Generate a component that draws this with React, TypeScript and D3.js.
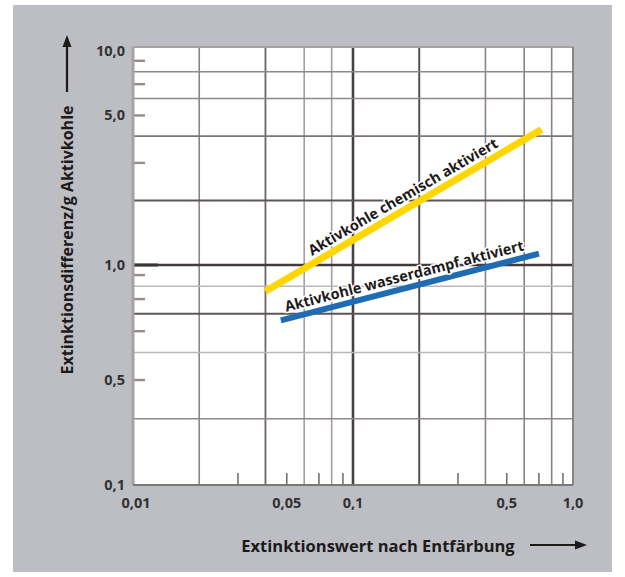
import React from "react";
import * as d3 from "d3";

// ---- data ----
const xGridValues = [0.02, 0.04, 0.06, 0.08, 0.1, 0.2, 0.4, 0.6, 0.8];
const xMinorTicks = [0.03, 0.05, 0.07, 0.09, 0.3, 0.5, 0.7, 0.9];
const xTickValues = [0.01, 0.05, 0.1, 0.5, 1];
const xTickLabels = ["0,01", "0,05", "0,1", "0,5", "1,0"];

const yGridValues = [8, 6, 4, 2, 1, 0.8, 0.6, 0.4, 0.2];
const yMinorTicks = [9, 7, 5, 3, 0.9, 0.7, 0.5, 0.3];
const yTickValues = [10, 5, 1, 0.3, 0.1];
const yTickLabels = ["10,0", "5,0", "1,0", "0,5", "0,1"];

const chemX = [0.04, 0.72];
const chemY = [0.76, 4.3];
const steamX = [0.047, 0.7];
const steamY = [0.56, 1.13];

const seriesNames = ["Aktivkohle chemisch aktiviert", "Aktivkohle wasserdampf aktiviert"];
const xTitle = "Extinktionswert nach Entfärbung";
const yTitle = "Extinktionsdifferenz/g Aktivkohle";

// ---- layout ----
const W = 625, H = 577;
const plot = { left: 133, right: 573, top: 47, bottom: 485 };
const FONT = "'Open Sans', 'DejaVu Sans', sans-serif";

const x = d3.scaleLog().domain([0.01, 1]).range([plot.left, plot.right]);
const y = d3.scaleLog().domain([0.1, 1, 10]).range([plot.bottom, 265, 51]);

function xGridStyle(v: number) {
  if (v === 0.1) return { stroke: "#474143", w: 2.6 };
  if (v === 0.2) return { stroke: "#575052", w: 2 };
  if (v === 0.04) return { stroke: "#6b6466", w: 1.8 };
  if (v === 0.06 || v === 0.08) return { stroke: "#a49ea0", w: 1.6 };
  return { stroke: "#8a8385", w: 1.6 };
}
function yGridStyle(v: number) {
  if (v === 1) return { stroke: "#403a3c", w: 2.6 };
  if (v === 2 || v === 0.6) return { stroke: "#5d5658", w: 2 };
  if (v === 0.8 || v === 0.4) return { stroke: "#bbb6b8", w: 1.6 };
  if (v === 4) return { stroke: "#7c7577", w: 1.7 };
  return { stroke: "#8f888a", w: 1.6 };
}

function Series({ xs, ys, color, width, label, offset, t }: any) {
  const line = d3.line<number>().x((_, i) => x(xs[i])).y((_, i) => y(ys[i]));
  const x0 = x(xs[0]), y0 = y(ys[0]), x1 = x(xs[1]), y1 = y(ys[1]);
  const ang = (Math.atan2(y1 - y0, x1 - x0) * 180) / Math.PI;
  const mx = x0 + (x1 - x0) * t, my = y0 + (y1 - y0) * t;
  return (
    <g>
      <path d={line(xs) || ""} stroke={color} strokeWidth={width} fill="none" />
      <text
        transform={`translate(${mx},${my}) rotate(${ang})`}
        y={offset}
        textAnchor="middle"
        fontFamily={FONT}
        fontWeight={700}
        fontSize={14.5}
        fill="#1c1a1b"
        stroke="#ffffff"
        strokeWidth={3}
        strokeLinejoin="round"
        paintOrder="stroke"
      >
        {label}
      </text>
    </g>
  );
}

export default function App() {
  return (
    <svg
      width={W}
      height={H}
      style={{ position: "absolute", left: 0, top: 0, display: "block" }}
    >
      <rect x={0} y={0} width={W} height={H} fill="#ffffff" />
      <rect x={13} y={5} width={599} height={567} fill="#bdbec3" />
      <rect
        x={plot.left}
        y={plot.top}
        width={plot.right - plot.left}
        height={plot.bottom - plot.top}
        fill="#ffffff"
      />
      {/* grid */}
      {xGridValues.map((v) => {
        const s = xGridStyle(v);
        return (
          <line key={"xg" + v} x1={x(v)} x2={x(v)} y1={plot.top} y2={plot.bottom} stroke={s.stroke} strokeWidth={s.w} />
        );
      })}
      {yGridValues.map((v) => {
        const s = yGridStyle(v);
        return (
          <line key={"yg" + v} x1={plot.left} x2={plot.right} y1={y(v)} y2={y(v)} stroke={s.stroke} strokeWidth={s.w} />
        );
      })}
      {/* minor ticks */}
      {xMinorTicks.map((v) => (
        <line key={"xt" + v} x1={x(v)} x2={x(v)} y1={plot.bottom} y2={plot.bottom - 12} stroke="#6d6668" strokeWidth={1.5} />
      ))}
      {yMinorTicks.map((v) => (
        <line key={"yt" + v} x1={plot.left} x2={plot.left + 12} y1={y(v)} y2={y(v)} stroke="#938d8f" strokeWidth={2.4} />
      ))}
      <line x1={plot.left} x2={plot.left + 25} y1={y(1)} y2={y(1)} stroke="#3a3436" strokeWidth={3} />
      {/* frame */}
      <line x1={plot.left} x2={plot.right} y1={plot.top} y2={plot.top} stroke="#a7a1a3" strokeWidth={2} />
      <line x1={plot.left} x2={plot.left} y1={plot.top} y2={plot.bottom} stroke="#a7a1a3" strokeWidth={3} />
      <line x1={plot.right} x2={plot.right} y1={plot.top} y2={plot.bottom} stroke="#8a8385" strokeWidth={2} />
      <line x1={plot.left} x2={plot.right} y1={plot.bottom} y2={plot.bottom} stroke="#7d7678" strokeWidth={2} />

      {/* series */}
      <Series xs={chemX} ys={chemY} color="#ffd600" width={7} label={seriesNames[0]} offset={-7} t={0.52} />
      <Series xs={steamX} ys={steamY} color="#1f6cb3" width={6} label={seriesNames[1]} offset={-7} t={0.49} />

      {/* tick labels */}
      {yTickValues.map((v, i) => (
        <text key={"yl" + v} x={125} y={y(v)} dy="0.35em" textAnchor="end" fontFamily={FONT} fontWeight={700} fontSize={14.5} fill="#333132">
          {yTickLabels[i]}
        </text>
      ))}
      {xTickValues.map((v, i) => (
        <text key={"xl" + v} x={x(v) + (i === 0 ? 3 : 0)} y={503} dy="0.35em" textAnchor="middle" fontFamily={FONT} fontWeight={700} fontSize={14.5} fill="#333132">
          {xTickLabels[i]}
        </text>
      ))}

      {/* axis titles */}
      <text transform="translate(67,240) rotate(-90)" dy="0.35em" textAnchor="middle" fontFamily={FONT} fontWeight={700} fontSize={16} fill="#1c1a1b">
        {yTitle}
      </text>
      <line x1={67} x2={67} y1={92} y2={44} stroke="#1c1a1b" strokeWidth={2.2} />
      <path d="M67,35 L62.5,47 L71.5,47 Z" fill="#1c1a1b" />

      <text x={378} y={546} dy="0.35em" textAnchor="middle" fontFamily={FONT} fontWeight={700} fontSize={16.5} fill="#1c1a1b">
        {xTitle}
      </text>
      <line x1={530} x2={578} y1={545} y2={545} stroke="#1c1a1b" strokeWidth={2.2} />
      <path d="M587,545 L575,540.5 L575,549.5 Z" fill="#1c1a1b" />
    </svg>
  );
}
